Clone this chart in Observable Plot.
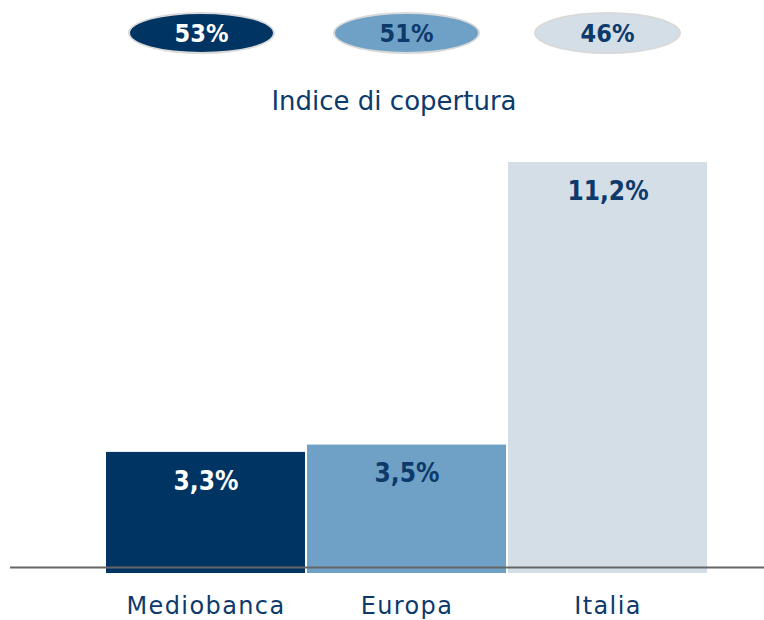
<!DOCTYPE html>
<html><head><meta charset="utf-8">
<script src="https://cdn.jsdelivr.net/npm/d3@7"></script>
<script src="https://cdn.jsdelivr.net/npm/@observablehq/plot@0.6"></script>
<style>
body{margin:0;background:#fff;font-family:"DejaVu Sans",sans-serif;}
#wrap{width:764px;}
#header{position:relative;height:130px;}
.pill{position:absolute;top:12px;width:143px;height:38px;border-radius:50%;border:2px solid #d9d9d9;box-sizing:content-box;display:flex;align-items:center;justify-content:center;font-family:"DejaVu Sans Condensed","DejaVu Sans",sans-serif;font-weight:bold;font-size:25px;}
#title{position:absolute;top:86px;left:0;width:788px;text-align:center;font-size:26px;color:#0d3a6b;}
</style></head>
<body><div id="wrap"><div id="header"><div id="title">Indice di copertura</div></div><div id="chart"></div></div>
<script>
const categories = ["Mediobanca", "Europa", "Italia"];
const values = [3.3, 3.5, 11.2];
const coverage = [53, 51, 46];
const colors = ["#003463", "#6fa1c6", "#d4dee7"];
const labelColors = ["#ffffff", "#0d3a6b", "#0d3a6b"];
const pillCenters = [201, 406, 607];

const header = document.getElementById("header");
coverage.forEach((c, i) => {
  const d = document.createElement("div");
  d.className = "pill";
  d.style.left = (pillCenters[i] - 73) + "px";
  d.style.background = colors[i];
  d.style.color = labelColors[i];
  d.textContent = c + "%";
  header.appendChild(d);
});

const data = categories.map((c, i) => ({cat: c, v: values[i], color: colors[i], lc: labelColors[i]}));
const fmt = v => v.toFixed(1).replace(".", ",") + "%";

const chart = Plot.plot({
  width: 764,
  height: 490,
  marginLeft: 10,
  marginRight: 0,
  marginTop: 32,
  marginBottom: 47,
  style: {fontFamily: '"DejaVu Sans",sans-serif', background: "#fff"},
  x: {domain: categories, paddingInner: 0.01, paddingOuter: 0.38, align: 0.627, label: null},
  y: {domain: [0, 11.2], axis: null},
  marks: [
    Plot.barY(data, {x: "cat", y: "v", fill: "color"}),
    Plot.text(data, {x: "cat", y: "v", text: d => fmt(d.v), fill: "lc", dy: 29, fontSize: 26, fontWeight: "bold", fontFamily: '"DejaVu Sans Condensed","DejaVu Sans",sans-serif'}),
    Plot.ruleY([0], {dy: -6, stroke: "#666", strokeWidth: 2}),
    Plot.axisX({tickSize: 0, tickPadding: 23, fontSize: 24, color: "#0d3a6b", label: null})
  ]
});
d3.select(chart).selectAll("g[aria-label='x-axis tick label'] text").style("letter-spacing", "1.4px");
document.getElementById("chart").appendChild(chart);
</script></body></html>
